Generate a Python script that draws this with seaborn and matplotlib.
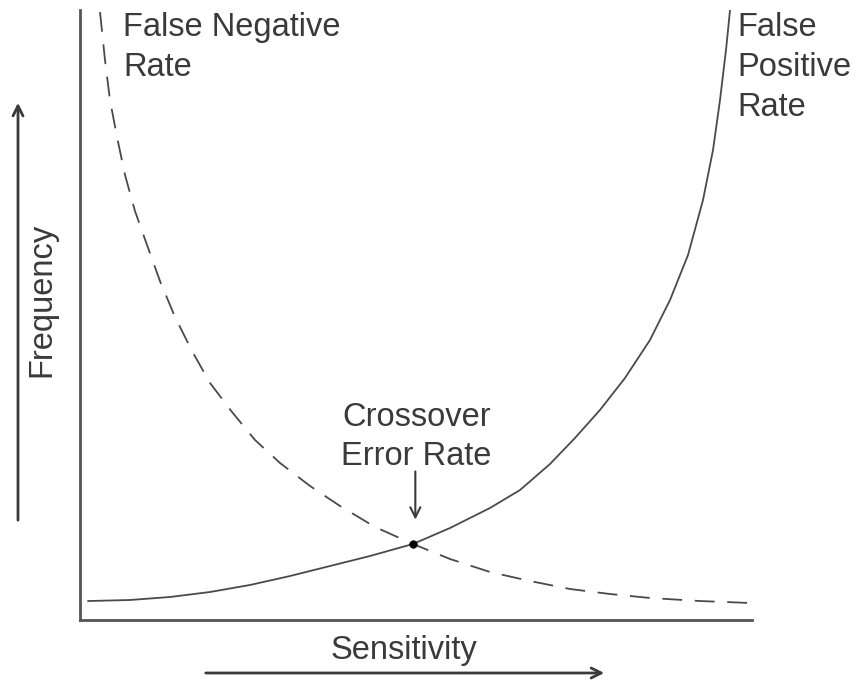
import matplotlib
matplotlib.use("Agg")
import matplotlib.pyplot as plt
import seaborn as sns
import pandas as pd

# False positive rate curve (solid) (0-100 scale)
fpr_x = [1.19, 7.44, 13.39, 19.35, 25.30, 31.25, 37.20, 43.15, 49.55, 55.06, 61.01, 65.48,
         69.94, 73.66, 77.38, 81.10, 84.82, 87.80, 90.48, 92.71, 94.20, 95.24, 96.13, 96.73]
fpr_y = [3.11, 3.28, 3.77, 4.59, 5.74, 7.21, 8.85, 10.49, 12.46, 15.08, 18.36, 21.31,
         25.57, 29.84, 34.43, 39.67, 45.90, 52.46, 59.84, 68.85, 77.05, 85.25, 93.44, 100.0]

# False negative rate curve (dashed)
fnr_x = [2.98, 3.72, 4.46, 5.51, 6.70, 8.18, 9.97, 11.90, 14.14, 16.67, 19.35, 22.62, 26.04,
         29.76, 34.23, 38.69, 43.90, 49.55, 55.06, 61.01, 66.96, 72.92, 78.87, 84.82, 92.26, 99.70]
fnr_y = [99.67, 91.80, 85.25, 79.18, 72.95, 67.05, 61.48, 55.57, 49.67, 44.10, 38.85, 34.10, 29.51,
         25.74, 21.97, 18.69, 15.25, 12.46, 10.00, 7.87, 6.39, 5.08, 4.26, 3.61, 3.11, 2.79]

# Crossover point
cross_x = [49.55]
cross_y = [12.46]

labels = {
    "fnr": "False Negative\nRate",
    "fpr": "False\nPositive\nRate",
    "cross": "Crossover\nError Rate",
    "xlabel": "Sensitivity",
    "ylabel": "Frequency",
}

sns.set_theme(style="white")
plt.rcParams["font.family"] = ["Liberation Sans", "DejaVu Sans"]

W, H = 856, 681
fig = plt.figure(figsize=(W / 100, H / 100), dpi=100)
ax = fig.add_axes([80 / W, 1 - 620 / H, (752 - 80) / W, (620 - 10) / H])

col = "#3a3a3a"
lcol = "#4a4a4a"
fs = 23.5

df_fpr = pd.DataFrame({"x": fpr_x, "y": fpr_y})
df_fnr = pd.DataFrame({"x": fnr_x, "y": fnr_y})

sns.lineplot(data=df_fpr, x="x", y="y", ax=ax, color=lcol, linewidth=1.3, sort=False)
sns.lineplot(data=df_fnr, x="x", y="y", ax=ax, color=lcol, linewidth=1.3, sort=False,
             linestyle=(0, (11, 7)))
sns.scatterplot(x=cross_x, y=cross_y, ax=ax, color="black", s=30, zorder=5, edgecolor="black")

ax.set_xlim(0, 100)
ax.set_ylim(0, 100)
ax.set_xticks([])
ax.set_yticks([])
ax.set_xlabel("")
ax.set_ylabel("")
for s in ["top", "right"]:
    ax.spines[s].set_visible(False)
for s in ["left", "bottom"]:
    ax.spines[s].set_color("#555555")
    ax.spines[s].set_linewidth(2.0)

ax.text(6.4, 99.6, labels["fnr"], fontsize=fs, color=col, ha="left", va="top",
        linespacing=1.37, clip_on=False)
ax.text(97.8, 99.6, labels["fpr"], fontsize=fs, color=col, ha="left", va="top",
        linespacing=1.37, clip_on=False)
ax.text(50.1, 30.0, labels["cross"], fontsize=fs, color=col, ha="center", va="center",
        linespacing=1.37)
ax.annotate("", xy=(49.9, 16.0), xytext=(49.9, 24.8),
            arrowprops=dict(arrowstyle="->", color=col, lw=1.5, mutation_scale=18))

fig.text(404 / W, 1 - 650 / H, labels["xlabel"], fontsize=fs, color=col, ha="center", va="center")
fig.text(42 / W, 1 - 300 / H, labels["ylabel"], fontsize=fs, color=col, ha="center", va="center",
         rotation=90)

fig.patches.append(matplotlib.patches.FancyArrowPatch(
    (203 / W, 1 - 673 / H), (607 / W, 1 - 673 / H), transform=fig.transFigure,
    arrowstyle="->", color=col, lw=2.0, mutation_scale=18))
fig.patches.append(matplotlib.patches.FancyArrowPatch(
    (18 / W, 1 - 523 / H), (18 / W, 1 - 100 / H), transform=fig.transFigure,
    arrowstyle="->", color=col, lw=2.0, mutation_scale=18))

fig.savefig("out.png", dpi=100, facecolor="white")
